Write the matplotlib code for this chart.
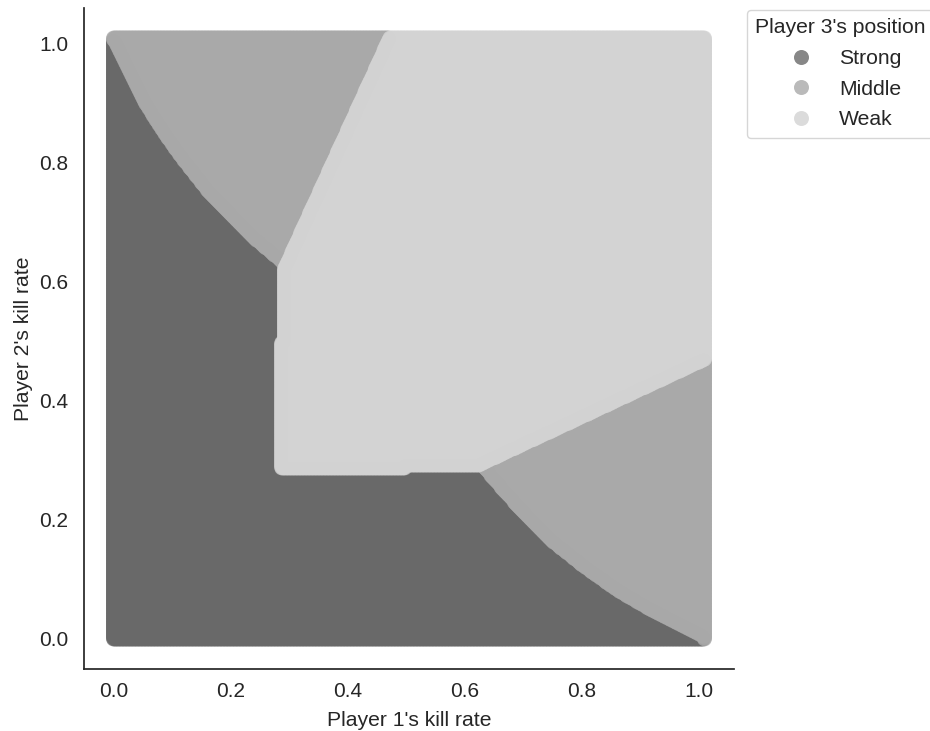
import numpy as np
import matplotlib
matplotlib.use("Agg")
import matplotlib.pyplot as plt
from matplotlib.lines import Line2D

plt.rcParams['font.family'] = ['Liberation Sans', 'DejaVu Sans']

# ---------------- data ----------------
categories = ["Strong", "Middle", "Weak"]
cat_colors = ["#696969", "#a9a9a9", "#d3d3d3"]

# grid of kill rates for players 1 and 2 (0 .. 1.01)
kill_rates = np.round(np.arange(0, 1.01001, 0.0025), 4)

# Strong / Middle boundary, upper-left (p2 above curve -> Middle)
tl_curve_p1 = [0.001, 0.028, 0.056, 0.084, 0.118, 0.158, 0.197, 0.236, 0.276, 0.290]
tl_curve_p2 = [1.007, 0.954, 0.898, 0.854, 0.807, 0.757, 0.716, 0.677, 0.644, 0.632]
# Middle / Weak boundary, upper-left (two points on a straight line)
tl_line_p1 = [0.290, 0.474]
tl_line_p2 = [0.618, 1.015]
# Strong / Middle boundary, lower-right (p1 right of curve -> Middle)
br_curve_p2 = [0.004, 0.021, 0.049, 0.082, 0.121, 0.165, 0.209, 0.253, 0.292]
br_curve_p1 = [1.008, 0.974, 0.918, 0.861, 0.805, 0.749, 0.704, 0.664, 0.630]
# Middle / Weak boundary, lower-right (two points on a straight line)
br_line_p1 = [0.618, 1.011]
br_line_p2 = [0.289, 0.470]
# Weak block: left edge (below / above step) and bottom edge (left / right of step)
weak_left_step_p2 = 0.4985
weak_left_p1 = [0.2865, 0.2915]
weak_bottom_step_p1 = 0.4985
weak_bottom_p2 = [0.2865, 0.2915]

# ---------------- classification of grid ----------------
P1, P2 = np.meshgrid(kill_rates, kill_rates, indexing="ij")
p1 = P1.ravel()
p2 = P2.ravel()

left_edge = np.where(p2 < weak_left_step_p2, weak_left_p1[0], weak_left_p1[1])
bottom_edge = np.where(p1 < weak_bottom_step_p1, weak_bottom_p2[0], weak_bottom_p2[1])
tl_coef = np.polyfit(tl_line_p2, tl_line_p1, 1)
br_coef = np.polyfit(br_line_p1, br_line_p2, 1)
tl_x = np.polyval(tl_coef, p2)
br_y = np.polyval(br_coef, p1)
weak = (p1 >= left_edge) & (p2 >= bottom_edge) & (p1 >= tl_x) & (p2 >= br_y)
mid_tl = (~weak) & (p2 >= 0.5) & (p2 >= np.interp(p1, tl_curve_p1, tl_curve_p2))
mid_br = (~weak) & (p2 < 0.5) & (p1 >= np.interp(p2, br_curve_p2, br_curve_p1))
cat = np.zeros(p1.size, dtype=int)
cat[mid_tl | mid_br] = 1
cat[weak] = 2

order = np.argsort(cat, kind="stable")
p1, p2, cat = p1[order], p2[order], cat[order]

# ---------------- plot ----------------
fig = plt.figure(figsize=(9.3, 7.31), dpi=100)
ax = fig.add_axes([84 / 930, 62 / 731, 650 / 930, 661 / 731])

ax.scatter(p1, p2, c=np.array(cat_colors)[cat], s=115, alpha=0.8,
           linewidths=0, edgecolors="none")

span = kill_rates.max() - kill_rates.min()
ax.set_xlim(kill_rates.min() - 0.05 * span, kill_rates.max() + 0.05 * span)
ax.set_ylim(kill_rates.min() - 0.05 * span, kill_rates.max() + 0.05 * span)
ticks = [0.0, 0.2, 0.4, 0.6, 0.8, 1.0]
tick_labels = ["0.0", "0.2", "0.4", "0.6", "0.8", "1.0"]
ax.set_xticks(ticks)
ax.set_xticklabels(tick_labels)
ax.set_yticks(ticks)
ax.set_yticklabels(tick_labels)

text_color = "#262626"
ax.tick_params(axis="x", length=0, pad=9.5, labelsize=15, labelcolor=text_color)
ax.tick_params(axis="y", length=0, pad=11.5, labelsize=15, labelcolor=text_color)
for s in ["top", "right"]:
    ax.spines[s].set_visible(False)
for s in ["left", "bottom"]:
    ax.spines[s].set_color(text_color)
    ax.spines[s].set_linewidth(1.25)

ax.set_xlabel("Player 1's kill rate", fontsize=15.2, color=text_color, labelpad=7)
ax.set_ylabel("Player 2's kill rate", fontsize=15.2, color=text_color, labelpad=4.5)

handles = [Line2D([], [], marker="o", linestyle="", markerfacecolor=c,
                  markeredgewidth=0, markersize=10.8, alpha=0.8)
           for c in cat_colors]
leg = ax.legend(handles, categories, title="Player 3's position",
                loc="upper left", bbox_to_anchor=(1.02, 1.0 - 2 / 661), borderaxespad=0,
                fontsize=15.2, title_fontsize=15.2, labelspacing=0.55,
                frameon=True, edgecolor="#cccccc")
for t in leg.get_texts():
    t.set_color(text_color)
leg.get_title().set_color(text_color)

fig.savefig("out.png", dpi=100)
